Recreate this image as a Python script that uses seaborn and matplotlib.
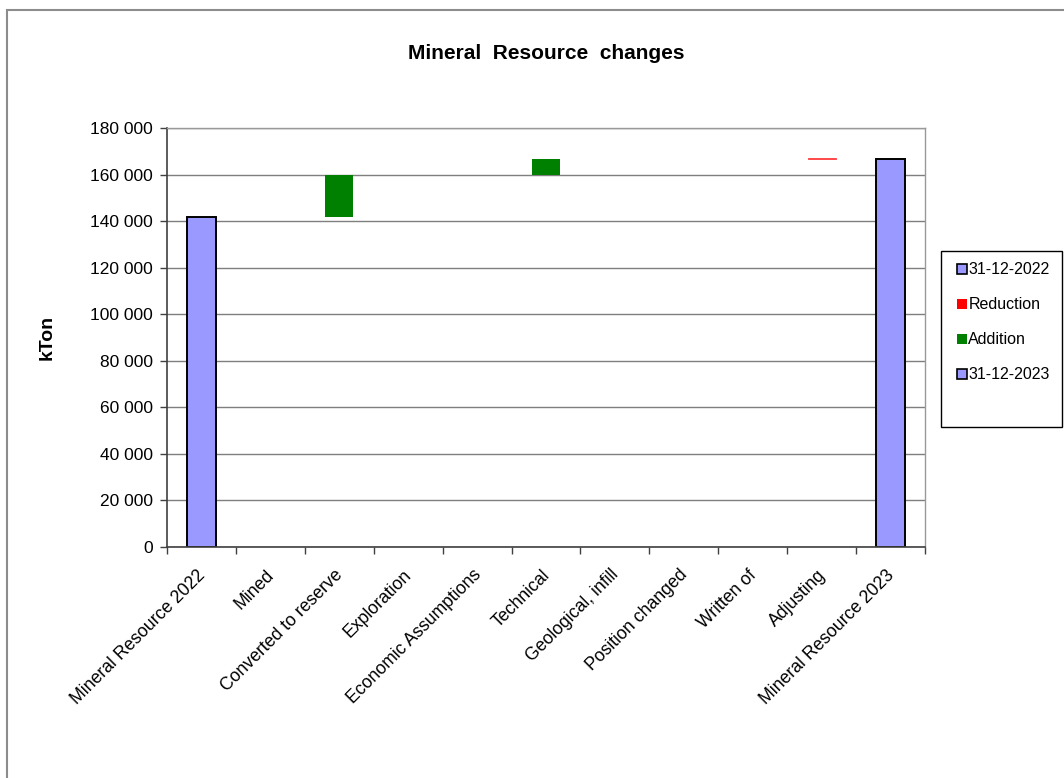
import matplotlib
matplotlib.use("Agg")
import matplotlib.pyplot as plt
import seaborn as sns
from matplotlib.lines import Line2D
from matplotlib.patches import Rectangle
from matplotlib.ticker import FuncFormatter, FixedLocator

# Categories of the resource bridge
categories = [
    "Mineral Resource 2022", "Mined", "Converted to reserve", "Exploration",
    "Economic Assumptions", "Technical", "Geological, infill",
    "Position changed", "Written of", "Adjusting", "Mineral Resource 2023",
]

# Waterfall series (kTon)
offset    = [0, 0, 141600, 0, 0, 160000, 0, 0, 0, 166850, 0]   # hidden base under change bars
opening   = [141600, 0, 0, 0, 0, 0, 0, 0, 0, 0, 0]              # 31-12-2022
reduction = [0, 0, 0, 0, 0, 0, 0, 0, 0, 150, 0]                # Reduction
addition  = [0, 0, 18400, 0, 0, 6500, 0, 0, 0, 0, 0]            # Addition
closing   = [0, 0, 0, 0, 0, 0, 0, 0, 0, 0, 166500]              # 31-12-2023

series_names = ["31-12-2022", "Reduction", "Addition", "31-12-2023"]
yticks = [0, 20000, 40000, 60000, 80000, 100000, 120000, 140000, 160000, 180000]

TOTAL_BLUE = "#9999ff"
RED = "#ff0000"
GREEN = "#008000"

sns.set_style("white")
plt.rcParams["font.family"] = ["Liberation Sans", "DejaVu Sans"]
plt.rcParams["text.color"] = "black"
plt.rcParams["axes.labelcolor"] = "black"
plt.rcParams["xtick.color"] = "black"
plt.rcParams["ytick.color"] = "black"

heights, kinds = [], []
for o, r, a, c in zip(opening, reduction, addition, closing):
    if o:
        heights.append(o); kinds.append("open")
    elif c:
        heights.append(c); kinds.append("close")
    elif r:
        heights.append(r); kinds.append("red")
    else:
        heights.append(a); kinds.append("add")

kind_color = {"open": TOTAL_BLUE, "close": TOTAL_BLUE, "red": RED, "add": GREEN}
palette = {cat: kind_color[k] for cat, k in zip(categories, kinds)}

fig = plt.figure(figsize=(10.64, 7.78), dpi=100)
ax = fig.add_axes([167 / 1064, 1 - 547 / 778, (925 - 167) / 1064, (547 - 128) / 778])

sns.barplot(x=categories, y=heights, hue=categories, palette=palette,
            legend=False, width=0.41, dodge=False, saturation=1, ax=ax)

# lift the change bars onto their hidden base and style each kind
for patch in ax.patches:
    idx = int(round(patch.get_x() + patch.get_width() / 2))
    patch.set_y(offset[idx])
    k = kinds[idx]
    if k in ("open", "close"):
        patch.set_edgecolor("black")
        patch.set_linewidth(1.4)
    elif k == "red":
        patch.set_edgecolor("#ff4a4a")
        patch.set_facecolor("#ff4a4a")
        patch.set_linewidth(0.7)
    else:
        patch.set_edgecolor(GREEN)
        patch.set_linewidth(0)

ax.set_xlim(-0.5, len(categories) - 0.5)
ax.set_ylim(0, 180000)
ax.yaxis.set_major_locator(FixedLocator(yticks))
ax.yaxis.set_major_formatter(FuncFormatter(lambda v, p: f"{int(v):,}".replace(",", " ")))
ax.yaxis.grid(True, color="#7f7f7f", linewidth=1.0)
ax.set_axisbelow(True)

# category labels sit slightly left of each bar centre (label anchors only, ticks hidden)
ax.set_xticks([i - 0.07 for i in range(len(categories))])
ax.set_xticklabels(categories, rotation=45, ha="right", rotation_mode="anchor", fontsize=12.7)
ax.xaxis.set_minor_locator(FixedLocator([i - 0.5 for i in range(len(categories) + 1)]))
ax.tick_params(axis="x", which="major", length=0, pad=14)
ax.tick_params(axis="x", which="minor", length=5, width=1, color="#404040", direction="out")
ax.tick_params(axis="y", which="major", length=5, width=1, color="#404040", direction="out",
               labelsize=12.5, pad=5)
ax.tick_params(bottom=True, left=True, which="both")

for side in ("left", "bottom"):
    ax.spines[side].set_color("#404040")
    ax.spines[side].set_linewidth(1.2)
for side in ("top", "right"):
    ax.spines[side].set_color("#999999")
    ax.spines[side].set_linewidth(1.0)

ax.set_xlabel("")
ax.set_ylabel("kTon", fontsize=14, fontweight="bold", labelpad=25)
ax.set_title("Mineral  Resource  changes", fontsize=15, fontweight="bold", pad=50)

# legend with its own box
fig.patches.append(Rectangle((941 / 1064, 1 - 427 / 778), (1062 - 941) / 1064, (427 - 251) / 778,
                             transform=fig.transFigure, fill=False, edgecolor="black",
                             linewidth=1.0, zorder=5))
handles = [
    Line2D([], [], linestyle="none", marker="s", markersize=6.5, markerfacecolor=TOTAL_BLUE,
           markeredgecolor="black", markeredgewidth=1.2),
    Line2D([], [], linestyle="none", marker="s", markersize=6.5, markerfacecolor=RED,
           markeredgecolor=RED, markeredgewidth=0),
    Line2D([], [], linestyle="none", marker="s", markersize=6.5, markerfacecolor=GREEN,
           markeredgecolor=GREEN, markeredgewidth=0),
    Line2D([], [], linestyle="none", marker="s", markersize=6.5, markerfacecolor=TOTAL_BLUE,
           markeredgecolor="black", markeredgewidth=1.2),
]
fig.legend(handles, series_names, loc="upper left",
           bbox_to_anchor=(954 / 1064, 1 - 259 / 778), bbox_transform=fig.transFigure,
           frameon=False, fontsize=11.5, handlelength=0.6, handletextpad=0.1,
           labelspacing=1.25, borderaxespad=0, borderpad=0.2)

# outer chart frame
fig.patches.append(Rectangle((7 / 1064, -0.05), 1.1, 1 - 10 / 778 + 0.05,
                             transform=fig.transFigure, fill=False, edgecolor="#8c8c8c",
                             linewidth=1.5, zorder=0))

fig.savefig("out.png", dpi=100)
